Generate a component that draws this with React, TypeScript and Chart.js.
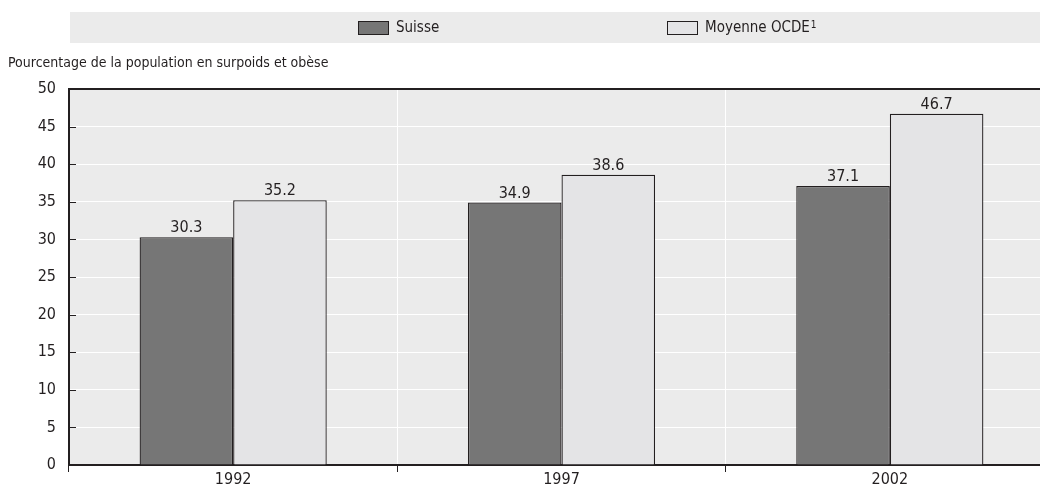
import React, { useEffect, useRef } from "react";
import { Chart, registerables } from "chart.js";

Chart.register(...registerables);

const categories = ["1992", "1997", "2002"];
const suisse = [30.3, 34.9, 37.1];
const ocde = [35.2, 38.6, 46.7];
const seriesNames = ["Suisse", "Moyenne OCDE"];
const yTicks = [0, 5, 10, 15, 20, 25, 30, 35, 40, 45, 50];
const yTitle = "Pourcentage de la population en surpoids et obèse";

const FONT = "'Liberation Sans Narrow', 'DejaVu Sans Condensed', 'Roboto', sans-serif";
const DARK = "#231f20";
const SUISSE_COLOR = "#767676";
const OCDE_COLOR = "#e4e4e6";
const BG = "#ebebeb";

const decoPlugin = {
  id: "deco",
  beforeDraw(chart: any) {
    const { ctx, chartArea } = chart;
    ctx.save();
    ctx.fillStyle = BG;
    ctx.fillRect(chartArea.left, chartArea.top, chartArea.right - chartArea.left, chartArea.bottom - chartArea.top);
    ctx.fillRect(70, 12, 1040 - 70, 31);
    ctx.restore();
  },
  afterDraw(chart: any) {
    const { ctx, chartArea } = chart;
    ctx.save();
    ctx.strokeStyle = DARK;
    ctx.lineWidth = 2;
    ctx.beginPath();
    ctx.moveTo(chartArea.left, chartArea.top);
    ctx.lineTo(chartArea.right, chartArea.top);
    ctx.stroke();
    const y = chart.scales.y;
    ctx.lineWidth = 1;
    yTicks.forEach((v) => {
      const py = Math.round(y.getPixelForValue(v)) + 0.5;
      ctx.beginPath();
      ctx.moveTo(chartArea.left, py);
      ctx.lineTo(chartArea.left + 7, py);
      ctx.stroke();
    });
    ctx.fillStyle = DARK;
    ctx.font = "16px " + FONT;
    ctx.textAlign = "center";
    ctx.textBaseline = "bottom";
    chart.data.datasets.forEach((ds: any, i: number) => {
      const meta = chart.getDatasetMeta(i);
      meta.data.forEach((bar: any, j: number) => {
        ctx.fillText(ds.data[j].toFixed(1), bar.x, bar.y - 1);
      });
    });
    ctx.textAlign = "left";
    ctx.textBaseline = "middle";
    ctx.font = "14px " + FONT;
    ctx.fillText(yTitle, 8, 63);
    const items = [
      { x: 358, color: SUISSE_COLOR, label: seriesNames[0], sup: "" },
      { x: 667, color: OCDE_COLOR, label: seriesNames[1], sup: "1" },
    ];
    items.forEach((it) => {
      ctx.fillStyle = it.color;
      ctx.fillRect(it.x, 21, 31, 14);
      ctx.strokeStyle = DARK;
      ctx.lineWidth = 1;
      ctx.strokeRect(it.x + 0.5, 21.5, 30, 13);
      ctx.fillStyle = DARK;
      ctx.font = "15px " + FONT;
      ctx.textBaseline = "middle";
      ctx.fillText(it.label, it.x + 38, 28);
      if (it.sup) {
        const w = ctx.measureText(it.label).width;
        ctx.font = "10px " + FONT;
        ctx.fillText(it.sup, it.x + 38 + w + 1, 25);
      }
    });
    ctx.restore();
  },
};

export default function App() {
  const ref = useRef<HTMLCanvasElement>(null);
  useEffect(() => {
    document.body.style.margin = "0";
    document.body.style.overflow = "hidden";
    const chart = new Chart(ref.current!, {
      type: "bar",
      data: {
        labels: categories,
        datasets: [
          {
            label: seriesNames[0],
            data: suisse,
            backgroundColor: SUISSE_COLOR,
            borderColor: DARK,
            borderWidth: 1.3,
            barPercentage: 1,
            categoryPercentage: 0.57,
          },
          {
            label: seriesNames[1],
            data: ocde,
            backgroundColor: OCDE_COLOR,
            borderColor: DARK,
            borderWidth: 1.3,
            barPercentage: 1,
            categoryPercentage: 0.57,
          },
        ],
      },
      options: {
        animation: false,
        responsive: false,
        maintainAspectRatio: false,
        layout: { padding: { top: 89, right: 0, left: 0, bottom: 0 } },
        plugins: { legend: { display: false }, tooltip: { enabled: false } },
        scales: {
          x: {
            grid: {
              offset: true,
              color: "#ffffff",
              lineWidth: 1,
              drawTicks: true,
              tickLength: 7,
              tickColor: DARK,
            },
            border: { color: DARK, width: 2 },
            ticks: { color: DARK, font: { family: FONT, size: 16 }, padding: -2 },
            afterFit: (s: any) => {
              s.height = 25;
            },
          },
          y: {
            min: 0,
            max: 50,
            afterBuildTicks: (s: any) => {
              s.ticks = yTicks.map((v) => ({ value: v }));
            },
            grid: { color: "#ffffff", lineWidth: 1, drawTicks: false },
            border: { color: DARK, width: 2 },
            ticks: { color: DARK, font: { family: FONT, size: 16 }, padding: 13 },
            afterFit: (s: any) => {
              s.width = 69;
            },
          },
        },
      },
      plugins: [decoPlugin],
    });
    return () => chart.destroy();
  }, []);
  return (
    <div style={{ width: 1040, height: 490, overflow: "hidden" }}>
      <canvas ref={ref} width={1054} height={490} style={{ display: "block" }} />
    </div>
  );
}
